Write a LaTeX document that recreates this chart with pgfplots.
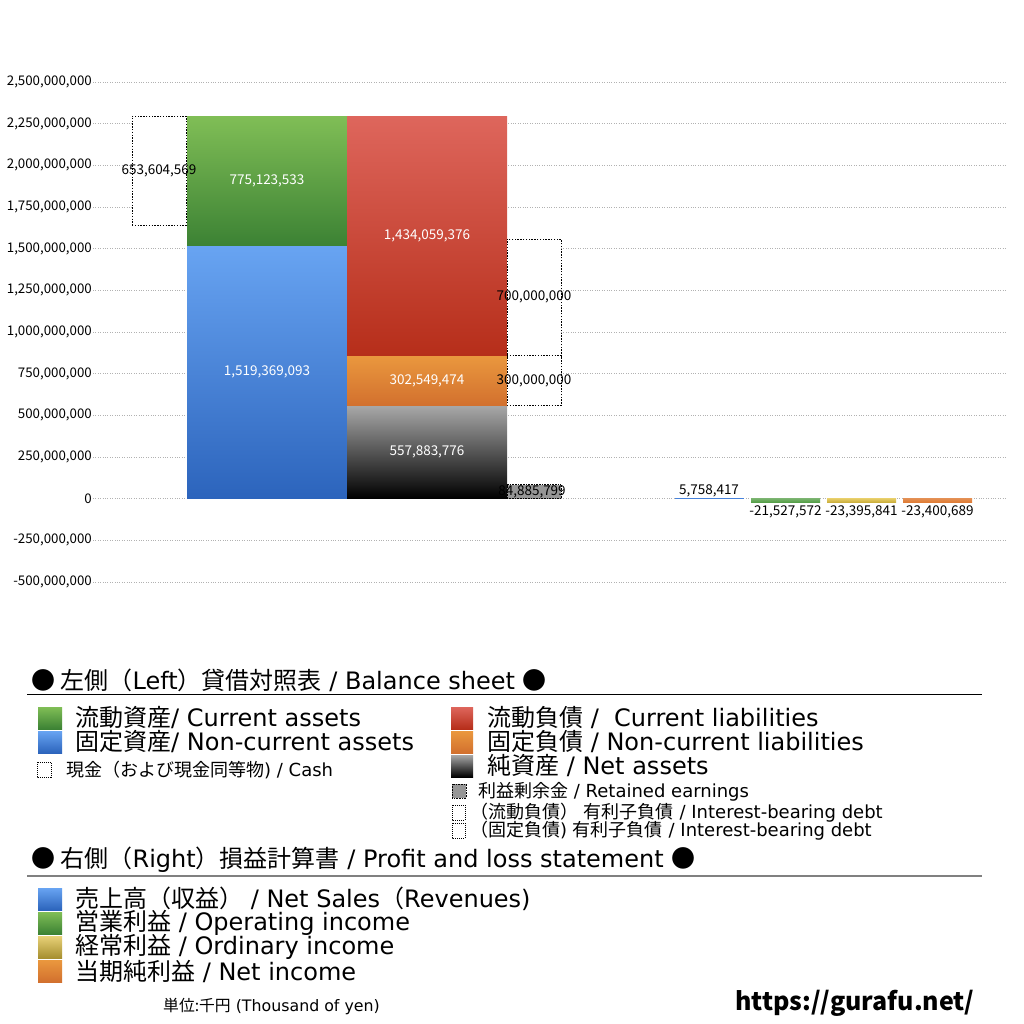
\documentclass[border=0pt]{standalone}
\usepackage{fontspec}
\setmainfont{Noto Sans CJK JP}
\newfontfamily\lt{DejaVu Sans}
\usepackage{pgfplots}
\pgfplotsset{compat=1.18}

% bar colours (top / bottom of the gradients)
\definecolor{grnT}{RGB}{128,190,86}
\definecolor{grnB}{RGB}{60,130,52}
\definecolor{bluT}{RGB}{104,164,242}
\definecolor{bluB}{RGB}{44,100,188}
\definecolor{redT}{RGB}{222,102,92}
\definecolor{redB}{RGB}{182,46,26}
\definecolor{orgT}{RGB}{234,152,62}
\definecolor{orgB}{RGB}{210,112,46}
\definecolor{gryT}{RGB}{168,168,168}
\definecolor{gryB}{RGB}{0,0,0}
\definecolor{retain}{RGB}{150,150,150}
\definecolor{plgrn}{RGB}{84,158,70}
\definecolor{plyel}{RGB}{222,190,62}
\definecolor{plorg}{RGB}{222,122,50}
\definecolor{plblu}{RGB}{70,130,220}

\newcommand{\fs}[1]{\fontsize{#1}{#1}\selectfont}
\tikzset{
    lbl/.style={font=\fs{13.5}, inner sep=0pt},
    box/.style={black, fill=white, line width=0.8pt, dash pattern=on 1.4pt off 1.4pt},
}

\begin{document}
\begin{tikzpicture}
\useasboundingbox (0,0) rectangle (1024pt,-1024pt);

\begin{axis}[
    at={(93pt,-582pt)}, anchor=south west,
    width=914pt, height=500pt, scale only axis,
    xmin=0, xmax=914,
    ymin=-500000000, ymax=2500000000,
    xtick=\empty,
    ytick={-500000000,-250000000,0,250000000,500000000,750000000,1000000000,
           1250000000,1500000000,1750000000,2000000000,2250000000,2500000000},
    ymajorgrids,
    grid style={gray!60, dash pattern=on 0.8pt off 1.6pt, line width=0.6pt},
    axis line style={draw=none},
    major tick style={draw=none},
    scaled y ticks=false,
    yticklabel style={font=\fs{13.3}, inner sep=1pt,
        /pgf/number format/.cd, fixed, precision=0, 1000 sep={,}, assume math mode=true},
    clip=false,
]
% cash (dashed)
\addplot[box] coordinates {(39,1640888057) (93,1640888057) (93,2294492626) (39,2294492626)} -- cycle;
% assets
\addplot[draw=none, top color=bluT, bottom color=bluB] coordinates {(94,0) (254,0) (254,1519369093) (94,1519369093)} -- cycle;
\addplot[draw=none, top color=grnT, bottom color=grnB] coordinates {(94,1519369093) (254,1519369093) (254,2294492626) (94,2294492626)} -- cycle;
% liabilities and net assets
\addplot[draw=none, top color=gryT, bottom color=gryB] coordinates {(254,0) (414,0) (414,557883776) (254,557883776)} -- cycle;
\addplot[draw=none, top color=orgT, bottom color=orgB] coordinates {(254,557883776) (414,557883776) (414,860433250) (254,860433250)} -- cycle;
\addplot[draw=none, top color=redT, bottom color=redB] coordinates {(254,860433250) (414,860433250) (414,2294492626) (254,2294492626)} -- cycle;
% retained earnings and interest-bearing debt
\addplot[fill=retain, draw=black, line width=0.6pt, dash pattern=on 0.8pt off 0.8pt] coordinates {(414,0) (468,0) (468,84885799) (414,84885799)} -- cycle;
\addplot[box] coordinates {(414,557883776) (468,557883776) (468,857883776) (414,857883776)} -- cycle;
\addplot[box] coordinates {(414,857883776) (468,857883776) (468,1557883776) (414,1557883776)} -- cycle;
% profit and loss
\addplot[draw=none, fill=plblu] coordinates {(582,0) (651,0) (651,5758417) (582,5758417)} -- cycle;
\addplot[draw=none, top color=plgrn!80!white, bottom color=plgrn] coordinates {(658,0) (727,0) (727,-21527572) (658,-21527572)} -- cycle;
\addplot[draw=none, top color=plyel!80!white, bottom color=plyel!90!black] coordinates {(734,0) (803,0) (803,-23395841) (734,-23395841)} -- cycle;
\addplot[draw=none, top color=plorg!85!white, bottom color=plorg] coordinates {(810,0) (879,0) (879,-23400689) (810,-23400689)} -- cycle;

% value labels
\node[lbl] at (axis cs:66,1967690341) {653,604,569};
\node[lbl, white] at (axis cs:174,1906930860) {775,123,533};
\node[lbl, white] at (axis cs:174,759684547) {1,519,369,093};
\node[lbl, white] at (axis cs:334,1577462938) {1,434,059,376};
\node[lbl, white] at (axis cs:334,709158513) {302,549,474};
\node[lbl, white] at (axis cs:334,278941888) {557,883,776};
\node[lbl] at (axis cs:441,1207883776) {700,000,000};
\node[lbl] at (axis cs:441,707883776) {300,000,000};
\node[lbl] at (axis cs:439,42442900) {84,885,799};
\node[lbl, anchor=south] at (axis cs:616,5758417) {5,758,417};
\node[lbl, anchor=north] at ([yshift=-3pt]axis cs:692.5,-21527572) {-21,527,572};
\node[lbl, anchor=north] at ([yshift=-3pt]axis cs:768.5,-23395841) {-23,395,841};
\node[lbl, anchor=north] at ([yshift=-3pt]axis cs:844.5,-23400689) {-23,400,689};
\end{axis}

% legend panel
\begin{scope}[x=1pt, y=-1pt, every node/.style={anchor=west, inner sep=0pt}]
\node[font=\fs{24}] at (31,680) {● 左側（{\lt Left}）貸借対照表{\lt\ / Balance sheet }●};
\draw[line width=1pt] (27,694) -- (982,694);

\path[top color=grnT, bottom color=grnB] (38,707) rectangle (62,729);
\node[font=\fs{24}] at (75,718) {流動資産{\lt/ Current assets}};
\path[top color=bluT, bottom color=bluB] (38,731) rectangle (62,753);
\node[font=\fs{24}] at (75,742) {固定資産{\lt/ Non-current assets}};
\draw[line width=0.7pt, dash pattern=on 1pt off 1pt] (37,762) rectangle (51,777);
\node[font=\fs{18}] at (66,770) {現金（および現金同等物{\lt ) / Cash}};

\path[top color=redT, bottom color=redB] (451,707) rectangle (473,729);
\node[font=\fs{24}] at (487,718) {流動負債{\lt\ /\ \ Current liabilities}};
\path[top color=orgT, bottom color=orgB] (451,731) rectangle (473,753);
\node[font=\fs{24}] at (487,742) {固定負債{\lt\ / Non-current liabilities}};
\path[top color=gryT, bottom color=gryB] (451,755) rectangle (473,777);
\node[font=\fs{24}] at (487,766) {純資産{\lt\ / Net assets}};

\draw[fill=retain, line width=0.6pt, dash pattern=on 0.8pt off 0.8pt] (452,784) rectangle (466,798);
\node[font=\fs{18}] at (478,792) {利益剰余金{\lt\ / Retained earnings}};
\draw[line width=0.7pt, dash pattern=on 1pt off 1pt] (452,805) rectangle (465,820);
\node[font=\fs{18}] at (470,813) {（流動負債）{\lt\ }有利子負債{\lt\ / Interest-bearing debt}};
\draw[line width=0.7pt, dash pattern=on 1pt off 1pt] (452,823) rectangle (465,838);
\node[font=\fs{18}] at (470,831) {（固定負債{\lt ) }有利子負債{\lt\ / Interest-bearing debt}};

\node[font=\fs{24}] at (31,860) {● 右側（{\lt Right}）損益計算書{\lt\ / Profit and loss statement }●};
\draw[line width=1.6pt, gray] (27,876) -- (982,876);

\path[top color=bluT, bottom color=bluB] (38,888) rectangle (62,910);
\node[font=\fs{24}] at (75,899) {売上高（収益）{\lt\ / Net Sales}（{\lt Revenues)}};
\path[top color=grnT, bottom color=grnB] (38,912) rectangle (62,934);
\node[font=\fs{24}] at (75,923) {営業利益{\lt\ / Operating income}};
\path[top color=plyel!70!white, bottom color=plyel!75!black] (38,936) rectangle (62,958);
\node[font=\fs{24}] at (75,947) {経常利益{\lt\ / Ordinary income}};
\path[top color=orgT, bottom color=orgB] (38,960) rectangle (62,982);
\node[font=\fs{24}] at (75,971) {当期純利益{\lt\ / Net income}};

\node[font=\fs{15.8}] at (163,1006) {単位:千円{\lt\ (Thousand of yen)}};
\node[font=\fs{25}\bfseries] at (735,1003) {https://gurafu.net/};
\end{scope}
\end{tikzpicture}
\end{document}
